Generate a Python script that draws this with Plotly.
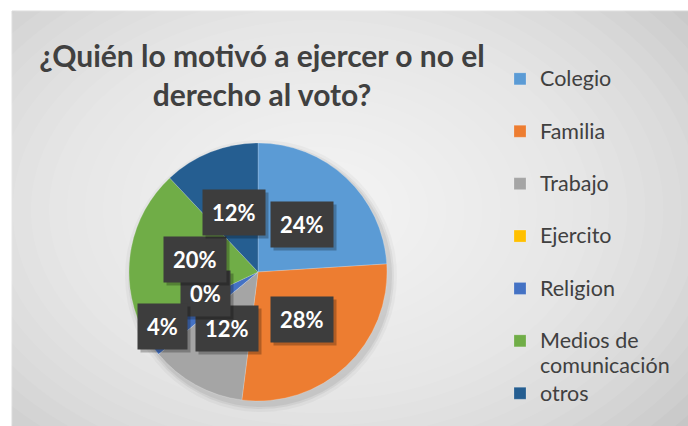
import math
import plotly.graph_objects as go

# data (25 respondents -> 24/28/12/0/4/20/12 %)
categories = ["Colegio", "Familia", "Trabajo", "Ejercito", "Religion", "Medios de comunicación", "otros"]
counts = [6, 7, 3, 0, 1, 5, 3]
colors = ["#5B9BD5", "#ED7D31", "#A5A5A5", "#FFC000", "#4472C4", "#70AD47", "#255E91"]
title_text = "¿Quién lo motivó a ejercer o no el<br>derecho al voto?"

W, H = 688, 426
FONT = "Lato, 'Open Sans', sans-serif"
DARK = "#404040"

# pie placement in pixels
cx, cy, R = 258, 272, 129


def px(x):
    return x / W


def py(y):
    return 1 - y / H


# legend text: every entry gets a two-line slot like Excel
def legend_text(s):
    return f'<span style="font-size:21.5px">{s}</span>'


legend_labels = []
for c in categories:
    if c.startswith("Medios"):
        legend_labels.append(legend_text("Medios de") + "<br>" + legend_text("comunicación"))
    elif c == "otros":
        legend_labels.append(legend_text(c))
    else:
        legend_labels.append(legend_text(c) + "<br> ")

fig = go.Figure(go.Pie(
    labels=legend_labels,
    values=counts,
    customdata=categories,
    hovertemplate="%{customdata}: %{percent}<extra></extra>",
    sort=False,
    direction="clockwise",
    rotation=0,
    textinfo="none",
    marker=dict(colors=colors, line=dict(color="rgba(255,255,255,0.4)", width=0.5)),
    domain=dict(x=[px(cx - R), px(cx + R)], y=[py(cy + R), py(cy - R)]),
))

# background: chart frame with a soft radial gradient
shapes = [dict(type="rect", xref="paper", yref="paper", x0=px(12), x1=px(W + 10),
               y0=py(H + 10), y1=py(11), fillcolor="#c6c6c6",
               line=dict(color="#d4d4d4", width=1), layer="below")]
gx, gy = 320, 210
n = 26
for i in range(n):
    f = 1 - i / n
    shapes.append(dict(type="circle", xref="paper", yref="paper",
                       x0=px(gx - 470 * f), x1=px(gx + 470 * f),
                       y0=py(gy + 330 * f), y1=py(gy - 330 * f),
                       fillcolor="rgba(255,255,255,0.075)", line=dict(width=0), layer="below"))
# faint pie shadow
for grow, alpha in [(7, 0.03), (4, 0.05), (2, 0.06)]:
    shapes.append(dict(type="circle", xref="paper", yref="paper",
                       x0=px(cx - R - grow + 3), x1=px(cx + R + grow + 3),
                       y0=py(cy + R + grow + 4), y1=py(cy - R - grow + 4),
                       fillcolor=f"rgba(0,0,0,{alpha})", line=dict(width=0), layer="below"))

# data labels in dark boxes at the slice middles
total = sum(counts)
nudge = {"Ejercito": (-3, 20), "Religion": (-41, -20)}
annotations = []
cum = 0
for cat, v in zip(categories, counts):
    mid = (cum + v / 2) / total * 2 * math.pi
    cum += v
    lx = cx + 0.5 * R * math.sin(mid)
    ly = cy - 0.5 * R * math.cos(mid)
    dx, dy = nudge.get(cat, (0, 0))
    txt = f"{round(100 * v / total)}%"
    common = dict(xref="paper", yref="paper", x=px(lx), y=py(ly), showarrow=False,
                  borderpad=9, xanchor="center", yanchor="middle")
    annotations.append(dict(text=f"<b>{txt}</b>", xshift=dx + 3, yshift=dy - 3,
                            bgcolor="rgba(0,0,0,0.25)",
                            font=dict(family=FONT, size=22, color="rgba(0,0,0,0)"), **common))
    annotations.append(dict(text=f"<b>{txt}</b>", xshift=dx, yshift=dy, bgcolor="#3d3d3d",
                            font=dict(family=FONT, size=22, color="white"), **common))

fig.update_layout(
    width=W, height=H,
    margin=dict(l=0, r=0, t=0, b=0),
    paper_bgcolor="white",
    title=dict(text=f"<b>{title_text}</b>", x=px(262), xanchor="center", y=py(67), yanchor="top",
               font=dict(family=FONT, size=30, color=DARK)),
    legend=dict(x=px(500), xanchor="left", y=py(60), yanchor="top", valign="top",
                bgcolor="rgba(0,0,0,0)", itemclick=False,
                font=dict(family=FONT, size=19, color=DARK)),
    shapes=shapes,
    annotations=annotations,
)

fig.write_html("out.html", config={"displayModeBar": False},
               post_script="document.body.style.margin='0';")
